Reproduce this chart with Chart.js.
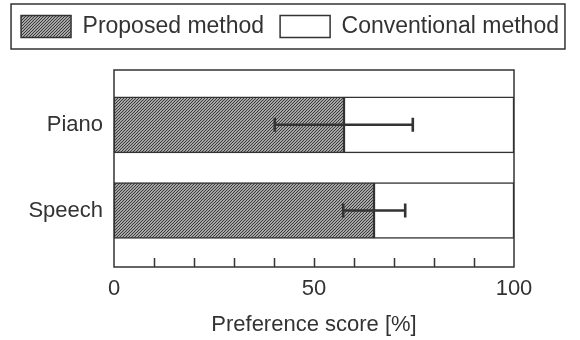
<!DOCTYPE html>
<html><head><meta charset="utf-8">
<script src="https://cdn.jsdelivr.net/npm/chart.js@4/dist/chart.umd.min.js"></script>
<style>html,body{margin:0;padding:0;background:#fff}</style>
</head><body>
<canvas id="c" width="580" height="340"></canvas>
<script>
const categories = ['Piano', 'Speech'];
const seriesNames = ['Proposed method', 'Conventional method'];
const proposed = [57.5, 65];
const conventional = [42.5, 35];
const errLow = [40.2, 57.3];
const errHigh = [74.7, 72.8];
const xTickLabels = [0, 50, 100];
const axisTitle = 'Preference score [%]';

const INK = '#333';
const FONT = { family: '"Liberation Sans", Arial, sans-serif', size: 22 };

function makeHatch() {
  const n = 3;
  const c = document.createElement('canvas');
  c.width = n; c.height = n;
  const g = c.getContext('2d');
  g.fillStyle = '#fff'; g.fillRect(0, 0, n, n);
  g.strokeStyle = '#3a3a3a'; g.lineWidth = 1.3;
  g.beginPath();
  g.moveTo(0, n); g.lineTo(n, 0);
  g.moveTo(-1, 1); g.lineTo(1, -1);
  g.moveTo(n - 1, n + 1); g.lineTo(n + 1, n - 1);
  g.stroke();
  return g.createPattern(c, 'repeat');
}
const hatch = makeHatch();

const legendMargin = {
  id: 'legendMargin',
  beforeInit(chart) {
    const orig = chart.legend.fit;
    chart.legend.fit = function () { orig.bind(chart.legend)(); this.height = 71; };
  }
};

const decor = {
  id: 'decor',
  afterDatasetsDraw(chart) {
    const { ctx, chartArea: a, scales: { x, y } } = chart;
    ctx.save();
    ctx.strokeStyle = INK;
    ctx.lineWidth = 2.6;
    categories.forEach((c, i) => {
      const py = y.getPixelForValue(i);
      const x1 = x.getPixelForValue(errLow[i]);
      const x2 = x.getPixelForValue(errHigh[i]);
      ctx.beginPath();
      ctx.moveTo(x1, py); ctx.lineTo(x2, py);
      ctx.moveTo(x1, py - 7); ctx.lineTo(x1, py + 7);
      ctx.moveTo(x2, py - 7); ctx.lineTo(x2, py + 7);
      ctx.stroke();
    });
    ctx.lineWidth = 1.5;
    ctx.strokeRect(a.left, a.top, a.right - a.left, a.bottom - a.top);
    ctx.beginPath();
    x.ticks.forEach(t => {
      if (t.value <= x.min || t.value >= x.max) return;
      const px = Math.round(x.getPixelForValue(t.value)) + 0.5;
      ctx.moveTo(px, a.bottom); ctx.lineTo(px, a.bottom - 9);
    });
    ctx.stroke();
    const hb = chart.legend.legendHitBoxes;
    if (hb && hb.length) {
      const l = Math.min(...hb.map(h => h.left)) - 10;
      const r = Math.max(...hb.map(h => h.left + h.width)) + 6;
      const t = Math.min(...hb.map(h => h.top)) - 11;
      const b = Math.max(...hb.map(h => h.top + h.height)) + 11;
      ctx.lineWidth = 1.5;
      ctx.strokeRect(l, t, r - l, b - t);
    }
    ctx.restore();
  }
};

new Chart(document.getElementById('c'), {
  type: 'bar',
  data: {
    datasets: [
      {
        label: seriesNames[0],
        data: proposed.map((v, i) => ({ x: v, y: i })),
        backgroundColor: hatch,
        borderColor: INK, borderWidth: 1.5, borderSkipped: false,
        barThickness: 56
      },
      {
        label: seriesNames[1],
        data: conventional.map((v, i) => ({ x: v, y: i })),
        backgroundColor: '#fff',
        borderColor: INK, borderWidth: 1.5, borderSkipped: false,
        barThickness: 56
      }
    ]
  },
  options: {
    indexAxis: 'y',
    responsive: false,
    devicePixelRatio: 1,
    animation: false,
    events: [],
    layout: { padding: { top: -1, left: 0, right: 0, bottom: 0 } },
    plugins: {
      tooltip: { enabled: false },
      legend: {
        display: true,
        position: 'top',
        labels: { boxWidth: 50, boxHeight: 22, padding: 16, color: INK,
          font: { family: FONT.family, size: 23 } }
      }
    },
    scales: {
      x: {
        type: 'linear', min: 0, max: 100, stacked: true,
        ticks: { stepSize: 10, autoSkip: false, maxRotation: 0, color: INK, font: FONT, padding: 9,
          callback: v => xTickLabels.includes(v) ? String(v) : '' },
        grid: { display: false, drawTicks: false },
        border: { display: false },
        title: { display: true, text: axisTitle, color: INK, font: FONT, padding: { top: 9, bottom: 2 } },
        afterFit: s => { s.height = 73; }
      },
      y: {
        type: 'linear', reverse: true, min: -0.64, max: 1.66, stacked: true, offset: false,
        afterBuildTicks: s => { s.ticks = categories.map((c, i) => ({ value: i })); },
        ticks: { color: INK, font: FONT, padding: 11, callback: v => categories[v] },
        grid: { display: false, drawTicks: false },
        border: { display: false },
        afterFit: s => { s.width = 114; }
      },
      yRight: {
        type: 'linear', position: 'right', display: true,
        ticks: { display: false }, grid: { display: false, drawTicks: false }, border: { display: false },
        afterFit: s => { s.width = 66; }
      }
    }
  },
  plugins: [legendMargin, decor]
});
</script>
</body></html>
